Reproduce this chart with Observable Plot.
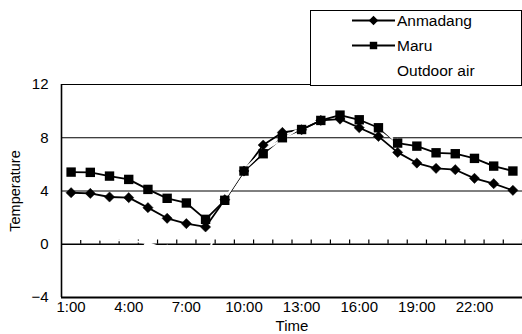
<!DOCTYPE html>
<html>
<head>
<meta charset="utf-8">
<script src="https://cdn.jsdelivr.net/npm/d3@7"></script>
<script src="https://cdn.jsdelivr.net/npm/@observablehq/plot@0.6"></script>
<style>
  html, body { margin: 0; padding: 0; background: #fff; }
  #wrap { position: relative; width: 522px; height: 334px; font-family: "Liberation Sans", Arial, sans-serif; }
  #legend { position: absolute; left: 310px; top: 10px; width: 212px; height: 76px; box-sizing: border-box;
            border: 1.5px solid #000; background: #fff; }
  #legend svg { display: block; }
</style>
</head>
<body>
<div id="wrap"><div id="chart"></div><div id="legend"></div></div>
<script>
// ---- data ----
const hours = [1,2,3,4,5,6,7,8,9,10,11,12,13,14,15,16,17,18,19,20,21,22,23,24];
const anmadang = [3.87,3.82,3.55,3.5,2.75,1.95,1.55,1.3,3.35,5.5,7.45,8.4,8.6,9.3,9.4,8.75,8.1,6.9,6.1,5.7,5.6,4.95,4.55,4.05];
const maru     = [5.42,5.4,5.12,4.87,4.12,3.45,3.1,1.87,3.3,5.5,6.8,8.0,8.62,9.3,9.7,9.35,8.75,7.6,7.37,6.87,6.8,6.45,5.87,5.5];
const outdoor  = [0.4,0.4,0.3,0.3,0.1,-0.4,-0.7,-1.5,3.4,5.6,7.0,7.9,8.8,9.7,10.4,10.0,8.9,7.6,6.7,6.3,6.2,5.7,5.2,4.8];
const seriesNames = ["Anmadang","Maru","Outdoor air"];
const xTickHours = [1,4,7,10,13,16,19,22];
const xTickLabels = ["1:00","4:00","7:00","10:00","13:00","16:00","19:00","22:00"];
const yTicks = [-4,0,4,8,12];
const gridValues = [4,8,12];
const categoryEdges = [1.5,2.5,3.5,4.5,5.5,6.5,7.5,8.5,9.5,10.5,11.5,12.5,13.5,14.5,15.5,16.5,17.5,18.5,19.5,20.5,21.5,22.5,23.5,24.5];

const rowsA = hours.map((h,i) => ({hour:h, value:anmadang[i], series:seriesNames[0]}));
const rowsM = hours.map((h,i) => ({hour:h, value:maru[i], series:seriesNames[1]}));
const rowsO = hours.map((h,i) => ({hour:h, value:outdoor[i], series:seriesNames[2]}));

const font = "Liberation Sans, Arial, sans-serif";

const chart = Plot.plot({
  width: 522, height: 334,
  marginLeft: 61, marginRight: 0, marginTop: 84, marginBottom: 37,
  style: {fontFamily: font, fontSize: "15px", color: "#000", background: "#fff", overflow: "visible"},
  x: {domain: [0.5, 24.5]},
  y: {domain: [-4, 12]},
  marks: [
    Plot.ruleY(gridValues, {stroke: "#000", strokeWidth: 1}),
    Plot.ruleY([0], {stroke: "#000", strokeWidth: 1.5}),
    Plot.ruleX(categoryEdges, {x: d => d, y1: 0, y2: 0.32, stroke: "#000", strokeWidth: 1.2}),
    Plot.ruleX([0.5], {stroke: "#000", strokeWidth: 1.6}),
    Plot.ruleY([-4], {stroke: "#000", strokeWidth: 2}),
    Plot.axisY({ticks: yTicks, tickSize: 0, tickPadding: 13, label: null, fontSize: 15}),
    Plot.axisX({ticks: xTickHours, tickFormat: d => xTickLabels[xTickHours.indexOf(d)], tickSize: 0, tickPadding: 4, label: null, fontSize: 15}),
    Plot.text(["Time"], {x: 12.5, y: -4, dy: 29, fontSize: 15, fill: "#000"}),
    Plot.text(["Temperature"], {x: 0.5, y: 4, dx: -46, rotate: -90, fontSize: 14.5, fill: "#000"}),
    Plot.line(rowsM, {x: "hour", y: "value", stroke: "#000", strokeWidth: 1.8}),
    Plot.line(rowsA, {x: "hour", y: "value", stroke: "#000", strokeWidth: 1.8}),
    Plot.line(rowsO, {x: "hour", y: "value", stroke: "#fff", strokeWidth: 2}),
    Plot.dot(rowsO, {x: "hour", y: "value", symbol: "triangle", fill: "#fff", r: 3.5}),
    Plot.dot(rowsM, {x: "hour", y: "value", symbol: "square", fill: "#000", r: 5.3}),
    Plot.dot(rowsA, {x: "hour", y: "value", symbol: "diamond2", fill: "#000", stroke: "#000", strokeWidth: 0.5, r: 4.6})
  ]
});
document.getElementById("chart").appendChild(chart);

// ---- legend ----
const lg = d3.select("#legend").append("svg").attr("width", 209).attr("height", 73);
const rowsY = [9.5, 34.5, 59.5];
const symA = d3.symbol(d3.symbolDiamond2, Math.PI * 4.3 * 4.3);
const symM = d3.symbol(d3.symbolSquare, Math.PI * 4.2 * 4.2);
seriesNames.forEach((name, i) => {
  const y = rowsY[i];
  if (i < 2) {
    lg.append("line").attr("x1", 41).attr("x2", 84).attr("y1", y).attr("y2", y)
      .attr("stroke", "#000").attr("stroke-width", 1.8);
    lg.append("path").attr("d", (i === 0 ? symA : symM)()).attr("transform", `translate(62.5,${y})`).attr("fill", "#000");
  }
  lg.append("text").attr("x", 86).attr("y", y).attr("dy", "0.36em")
    .attr("font-family", font).attr("font-size", 15.5).attr("fill", "#000").text(name);
});
</script>
</body>
</html>
